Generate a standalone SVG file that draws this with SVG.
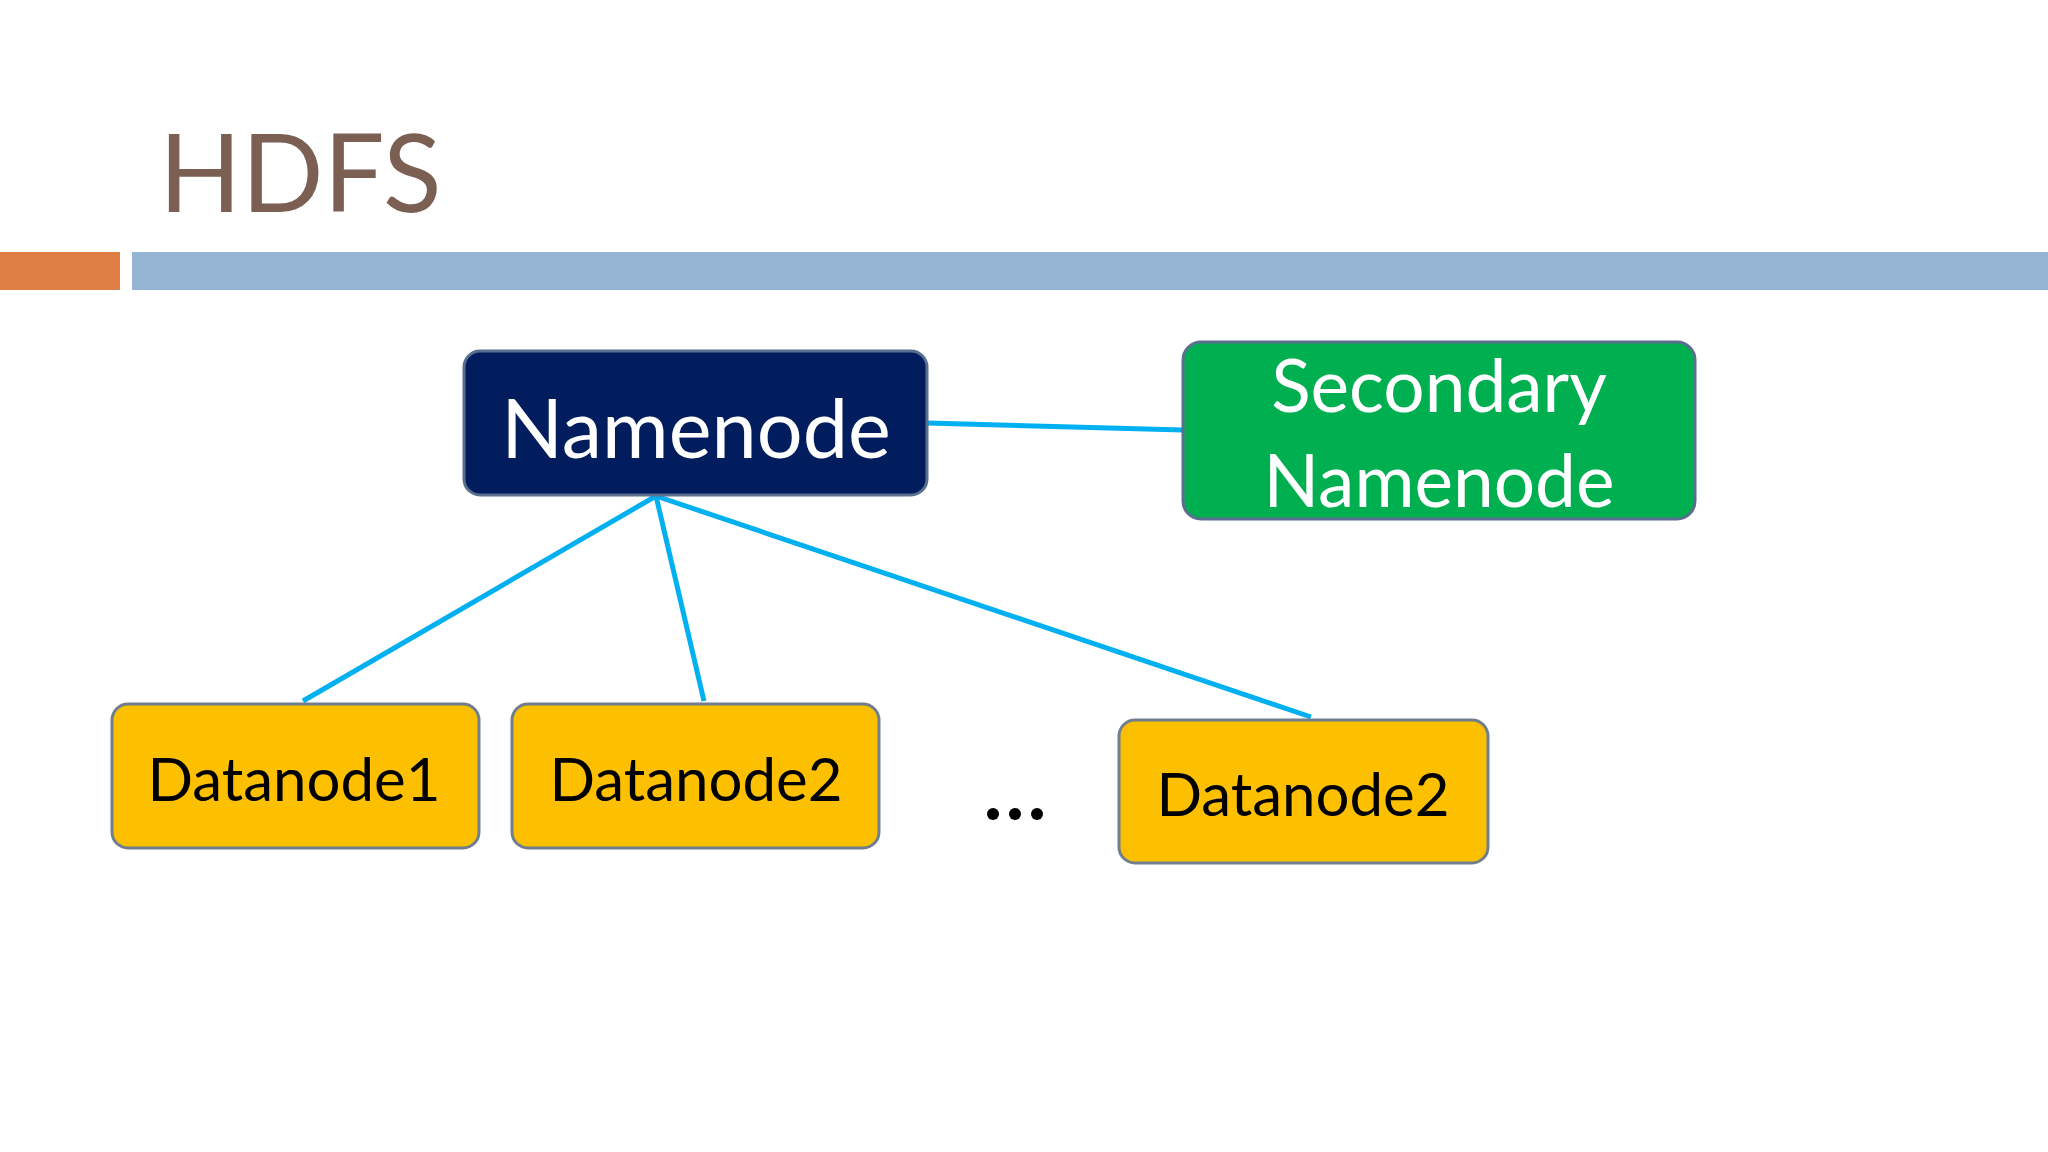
<svg xmlns="http://www.w3.org/2000/svg" width="2048" height="1152" viewBox="0 0 2048 1152">
<style>
.t{font-family:"Lato","Open Sans","Liberation Sans",sans-serif;text-anchor:middle}
.dn rect{fill:#fcc000;stroke:#6f7f8f;stroke-width:3}
.dn text{fill:#000;font-size:60px}
.c line{stroke:#00b0f0;stroke-width:5}
</style>
<rect width="2048" height="1152" fill="#fff"/>
<text x="159" y="212" font-family="Lato, 'Liberation Sans', sans-serif" font-size="108" fill="#7a5f52">HDFS</text>
<rect x="0" y="252" width="120" height="38" fill="#e07f45"/>
<rect x="132" y="252" width="1916" height="38" fill="#95b3d3"/>
<g class="c">
<line x1="927" y1="423" x2="1183" y2="430"/>
<line x1="656" y1="496" x2="303" y2="701"/>
<line x1="656" y1="496" x2="704" y2="701"/>
<line x1="656" y1="496" x2="1311" y2="717"/>
</g>
<g id="namenode"><rect x="464" y="351" width="463" height="144" rx="16" fill="#021d5e" stroke="#5a6f8f" stroke-width="3"/><text class="t" x="696" y="458" font-size="81" fill="#fff">Namenode</text></g>
<g id="secondary"><rect x="1183" y="342" width="512" height="177" rx="18" fill="#00b050" stroke="#5a6f8f" stroke-width="3"/><text class="t" x="1439" y="412" font-size="73" fill="#fff">Secondary</text><text class="t" x="1439" y="507" font-size="73" fill="#fff">Namenode</text></g>
<g id="dn1" class="dn"><rect x="112" y="704" width="367" height="144" rx="16"/><text class="t" x="294" y="801">Datanode1</text></g>
<g id="dn2" class="dn"><rect x="512" y="704" width="367" height="144" rx="16"/><text class="t" x="696" y="801">Datanode2</text></g>
<g id="dn3" class="dn"><rect x="1119" y="720" width="369" height="143" rx="16"/><text class="t" x="1303" y="816">Datanode2</text></g>
<g id="dots"><circle cx="993" cy="814" r="6"/><circle cx="1015" cy="814" r="6"/><circle cx="1037" cy="814" r="6"/></g>
</svg>
